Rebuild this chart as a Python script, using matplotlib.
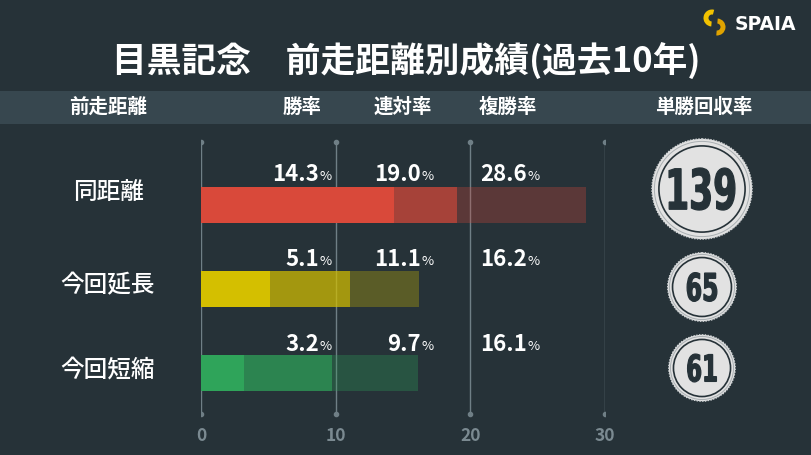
import matplotlib
matplotlib.use("Agg")
import matplotlib.pyplot as plt
from matplotlib.patches import Rectangle, Circle, PathPatch, Wedge
from matplotlib.textpath import TextPath
from matplotlib.font_manager import FontProperties
from matplotlib.transforms import Affine2D
import numpy as np

plt.rcParams['font.family'] = ['Noto Sans CJK JP', 'DejaVu Sans']

# data
categories = ["同距離", "今回延長", "今回短縮"]
win_rate = [14.3, 5.1, 3.2]
top2_rate = [19.0, 11.1, 9.7]
top3_rate = [28.6, 16.2, 16.1]
roi = [139, 65, 61]
headers = ["前走距離", "勝率", "連対率", "複勝率", "単勝回収率"]
ticks = [0, 10, 20, 30]
title = "目黒記念　前走距離別成績(過去10年)"

bg = "#263238"
band = "#37474f"
base_colors = ["#d9493a", "#d4bf00", "#2fa45a"]
grid_c = "#6f7f86"

fig = plt.figure(figsize=(8.12, 4.56), dpi=100, facecolor=bg)

# overlay in pixel coordinates
ax0 = fig.add_axes([0, 0, 1, 1], zorder=0)
ax0.set_xlim(0, 812)
ax0.set_ylim(456, 0)
ax0.axis("off")
ax0.add_patch(Rectangle((0, 92), 812, 33, color=band, lw=0))

ax0.text(406, 61, title, color="white", fontsize=25, fontweight="bold",
         ha="center", va="center")

hdr_x = [108, 302, 403, 508, 704]
for hx, h in zip(hdr_x, headers):
    ax0.text(hx, 107.5, h, color="white", fontsize=14, fontweight="bold",
             ha="center", va="center")

# logo
ax0.add_patch(Wedge((712, 19), 8.5, 95, 285, width=5, color="#f2c200", lw=0))
ax0.add_patch(Wedge((717, 28), 8.5, 275, 95, width=5, color="#e0a300", lw=0))
ax0.text(735, 25, "SPAIA", color="white", fontsize=13.5, fontweight="bold",
         family="DejaVu Sans", ha="left", va="center")

row_y = [206, 289.5, 373.5]
lab_y = [175, 260, 345]
cat_y = [193, 286, 370]

for y, c in zip(cat_y, categories):
    ax0.text(108, y, c, color="white", fontsize=17, fontweight="medium",
             ha="center", va="center")

# bars
ax = fig.add_axes([201 / 812, 0, 404 / 812, 1], zorder=1)
ax.set_xlim(0, 30)
ax.set_ylim(456, 0)
ax.axis("off")
ax.patch.set_alpha(0)

for t in ticks:
    ax.plot([t, t], [143, 415], color=grid_c, lw=1, zorder=1)
    ax.plot([t, t], [143, 415], ls="none", marker="o", ms=3, color=grid_c,
            zorder=1)
    ax.text(t, 436, str(t), color="#7b8a91", fontsize=12.5, fontweight="bold",
            ha="center", va="center", clip_on=False)

for i in range(3):
    w, t2, t3 = win_rate[i], top2_rate[i], top3_rate[i]
    col = base_colors[i]
    ax.barh(row_y[i], w, height=36, color=col, zorder=3)
    ax.barh(row_y[i], t2 - w, left=w, height=36, color=col, alpha=0.72,
            zorder=3)
    ax.barh(row_y[i], t3 - t2, left=t2, height=36, color=col, alpha=0.3,
            zorder=3)

# value labels at column positions
col_x = [319, 421, 527]
for i in range(3):
    for cx, v in zip(col_x, [win_rate[i], top2_rate[i], top3_rate[i]]):
        ax0.text(cx, lab_y[i], f"{v:.1f}", color="white", fontsize=16,
                 fontweight="bold", ha="right", va="center")
        ax0.text(cx + 1, lab_y[i] + 2, "%", color="white", fontsize=9.5,
                 ha="left", va="center")

# ROI circles
circ_y = [190, 288, 369]
fp = FontProperties(family="DejaVu Sans", weight="bold")
for cy, r in zip(circ_y, roi):
    R = 4.25 * np.sqrt(r)
    cx = 702
    ax0.add_patch(Circle((cx, cy), R, facecolor="#e2e2e2",
                         edgecolor="#d0d4d6", lw=1.0, ls=(0, (1, 1)),
                         zorder=2))
    ax0.add_patch(Circle((cx, cy), R * 0.95, facecolor="none",
                         edgecolor="#a9afb2", lw=0.7, zorder=3))
    ax0.add_patch(Circle((cx, cy), R * 0.86, facecolor="none",
                         edgecolor=bg, lw=1.2, zorder=3))
    tp = TextPath((0, 0), str(r), size=1, prop=fp)
    ext = tp.get_extents()
    h = 0.84 * R
    s = h / ext.height
    sx = s * 0.62
    tr = (Affine2D().translate(-(ext.x0 + ext.width / 2),
                               -(ext.y0 + ext.height / 2))
          .scale(sx, -s).translate(cx, cy))
    ax0.add_patch(PathPatch(tr.transform_path(tp), facecolor=bg,
                            edgecolor=bg, lw=0.9, zorder=4))

fig.savefig("out.png", dpi=100, facecolor=bg)
